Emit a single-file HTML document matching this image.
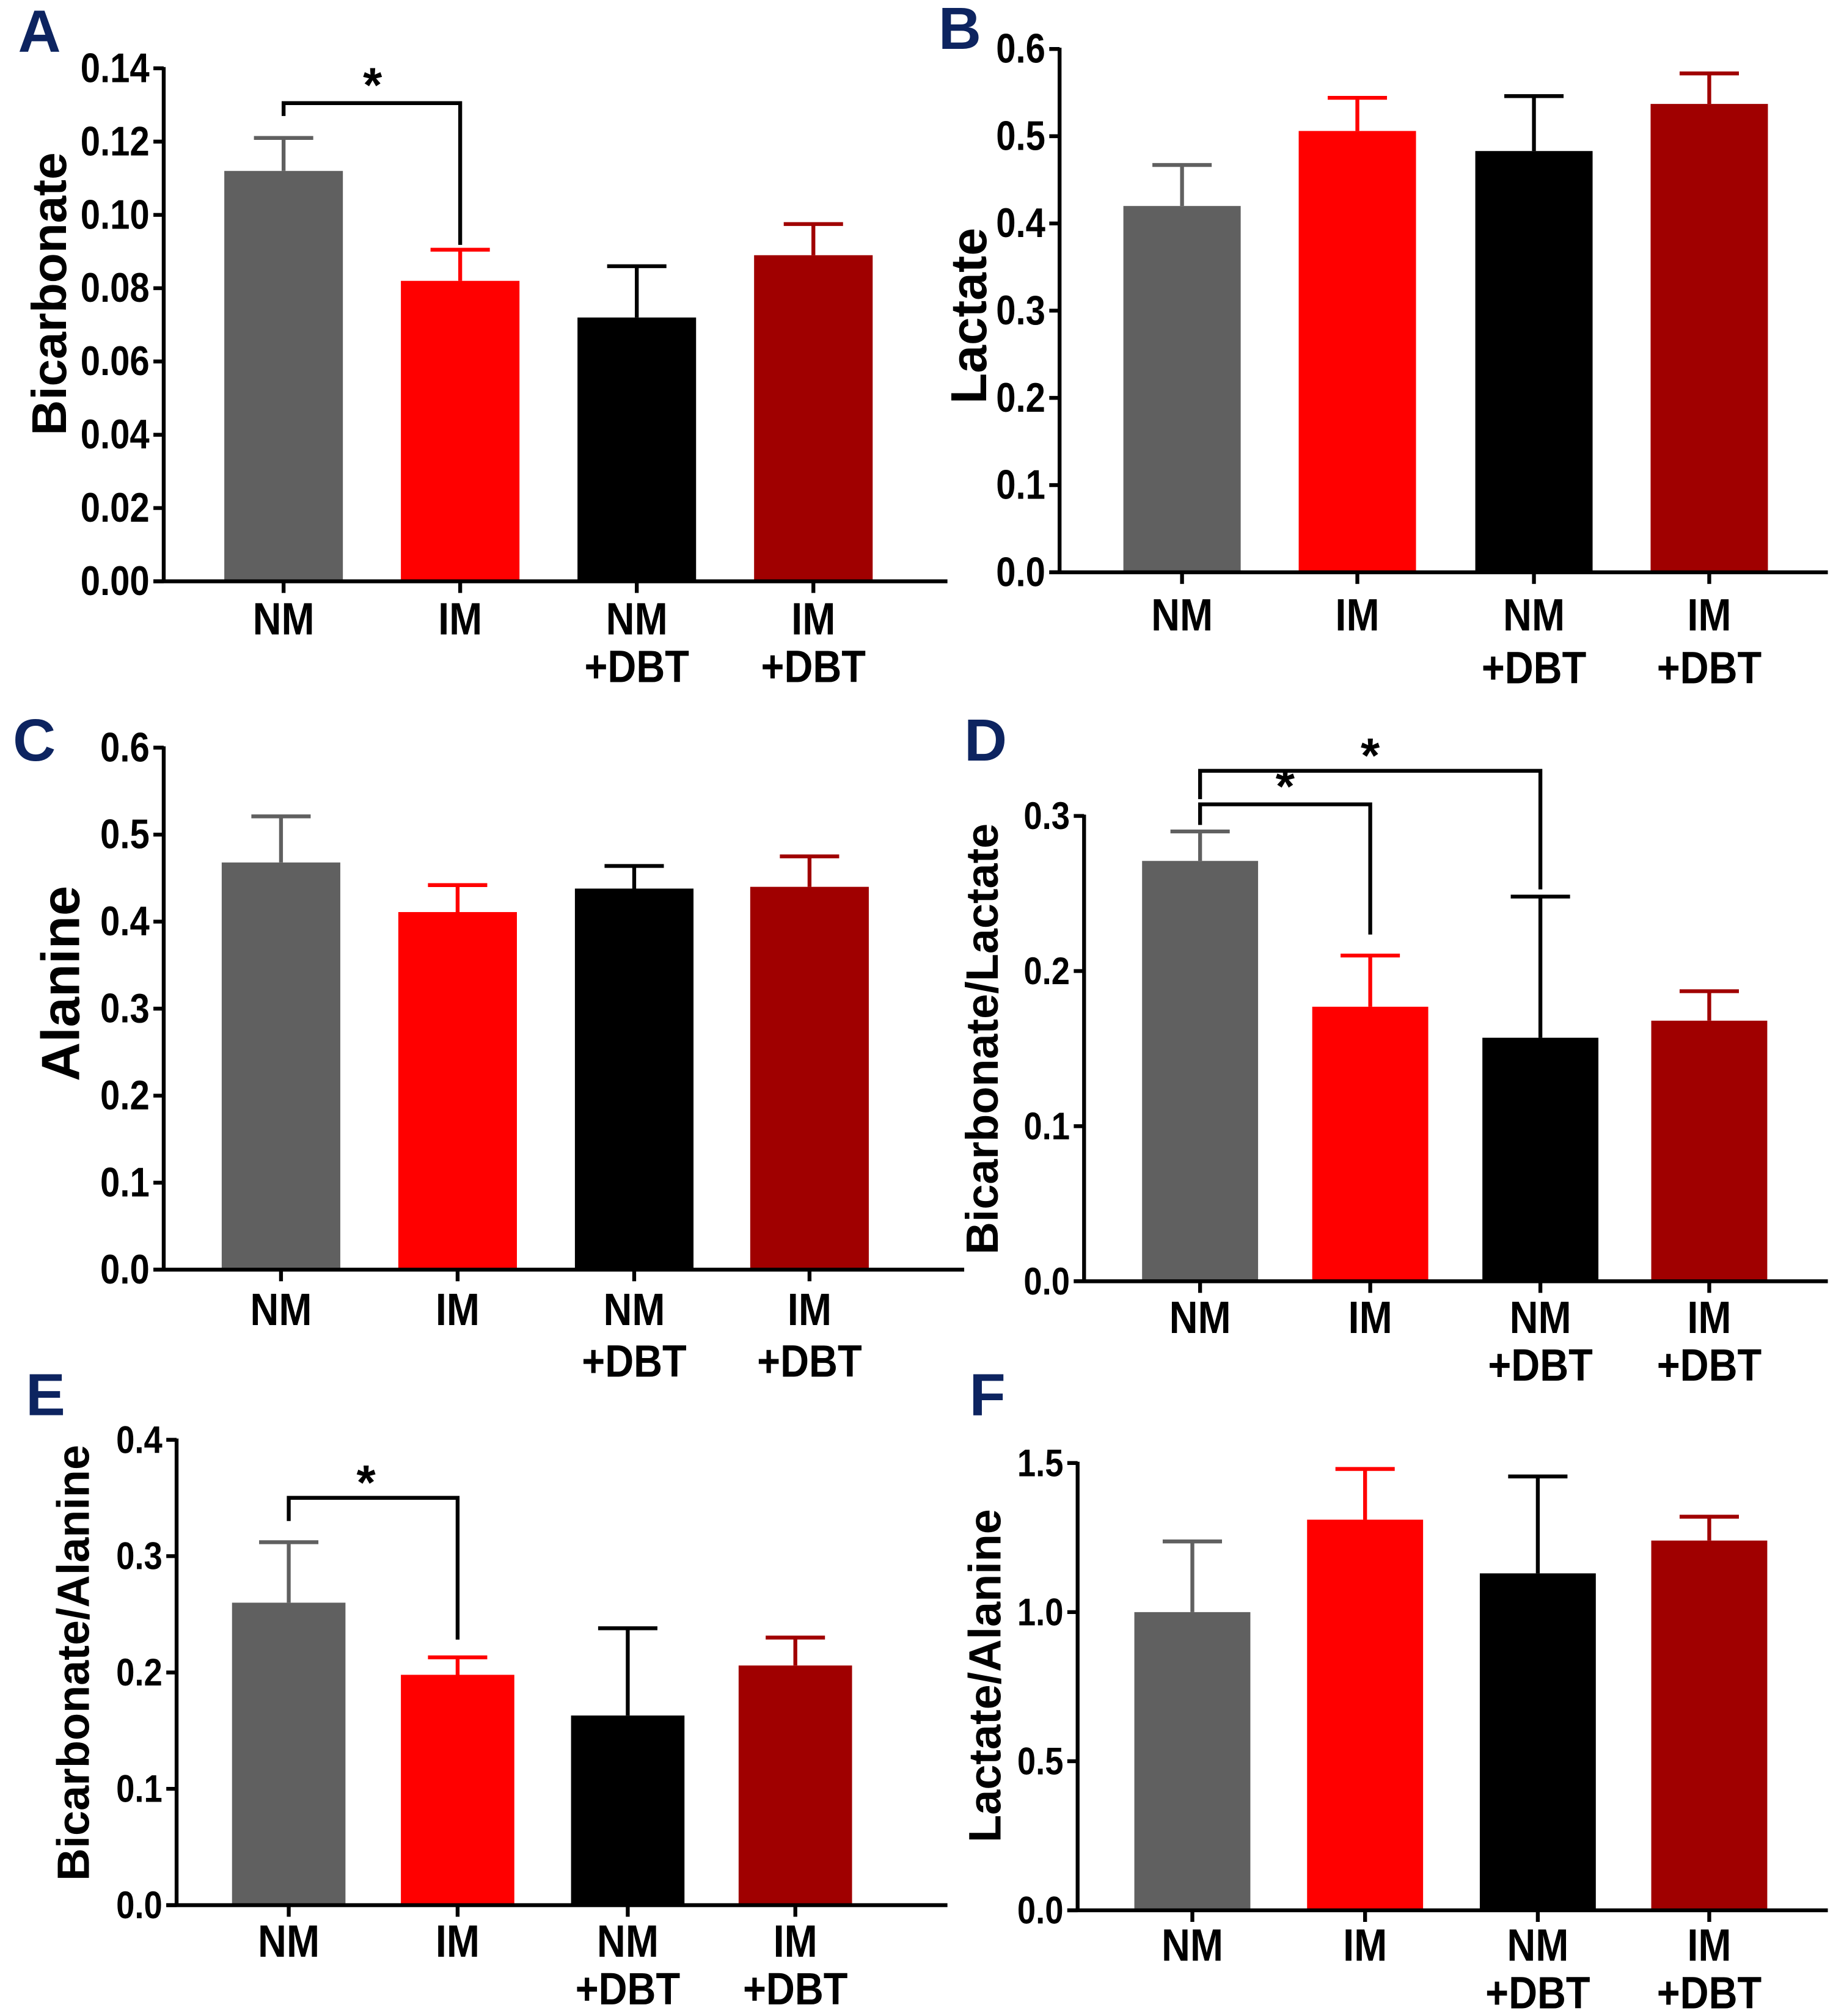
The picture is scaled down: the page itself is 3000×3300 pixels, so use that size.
<!DOCTYPE html>
<html><head><meta charset="utf-8"><style>
html,body{margin:0;padding:0;background:#fff;}
svg{display:block;}
text{font-family:"Liberation Sans",sans-serif;font-weight:bold;fill:#000;}
.pl{fill:#0d2460;}
</style></head><body>
<svg id="fig" width="3000" height="3300" viewBox="0 0 1422 1564" preserveAspectRatio="none" xmlns="http://www.w3.org/2000/svg"></svg>
<script>
const categories = [["NM"],["IM"],["NM","+DBT"],["IM","+DBT"]];
const colors = ["#606060","#ff0000","#000000","#a00000"];
const aValues = [0.112,0.082,0.072,0.089];
const aErrors = [0.121,0.0905,0.086,0.0975];
const aTicks = ["0.00","0.02","0.04","0.06","0.08","0.10","0.12","0.14"];
const bValues = [0.420,0.506,0.483,0.537];
const bErrors = [0.467,0.544,0.546,0.572];
const bTicks = ["0.0","0.1","0.2","0.3","0.4","0.5","0.6"];
const cValues = [0.468,0.411,0.438,0.440];
const cErrors = [0.521,0.442,0.464,0.475];
const cTicks = ["0.0","0.1","0.2","0.3","0.4","0.5","0.6"];
const dValues = [0.271,0.177,0.157,0.168];
const dErrors = [0.290,0.210,0.248,0.187];
const dTicks = ["0.0","0.1","0.2","0.3"];
const eValues = [0.260,0.198,0.163,0.206];
const eErrors = [0.312,0.213,0.238,0.230];
const eTicks = ["0.0","0.1","0.2","0.3","0.4"];
const fValues = [1.00,1.31,1.13,1.24];
const fErrors = [1.237,1.48,1.455,1.32];
const fTicks = ["0.0","0.5","1.0","1.5"];

const NS="http://www.w3.org/2000/svg";
const svg=document.getElementById('fig');
function mk(tag,attrs,parent){const e=document.createElementNS(NS,tag);for(const k in attrs)e.setAttribute(k,attrs[k]);(parent||svg).appendChild(e);return e;}

const panels=[
 {id:'a',letter:'A',lx:14,ly:40,title:'Bicarbonate',tx:38,ty:228,tfs:38,ax:127,y0:451,yt:53,xend:735,max:0.14,ticks:aTicks,vals:aValues,errs:aErrors,cx:[220,357,494,631],bw:92,xl1:480,xl2:517,tkfs:32,
  brackets:[{a:0,b:1,ya:90,top:80,yb:190,sx:289,sy:79}]},
 {id:'b',letter:'B',lx:728,ly:38,title:'Lactate',tx:752,ty:245,tfs:39,ax:822,y0:444,yt:38,xend:1418,max:0.6,ticks:bTicks,vals:bValues,errs:bErrors,cx:[917,1053,1190,1326],bw:91,xl1:477,xl2:518,tkfs:32,brackets:[]},
 {id:'c',letter:'C',lx:10,ly:590,title:'Alanine',tx:47,ty:763,tfs:42,ax:127,y0:985,yt:580,xend:748,max:0.6,ticks:cTicks,vals:cValues,errs:cErrors,cx:[218,355,492,628],bw:92,xl1:1016,xl2:1056,tkfs:32,brackets:[]},
 {id:'d',letter:'D',lx:748,ly:590,title:'Bicarbonate/Lactate',tx:762,ty:806,tfs:35,ax:841,y0:994,yt:633,xend:1418,max:0.3,ticks:dTicks,vals:dValues,errs:dErrors,cx:[931,1063,1195,1326],bw:90,xl1:1022,xl2:1059,tkfs:30,
  brackets:[{a:0,b:1,ya:640,top:624,yb:725,sx:997,sy:623},{a:0,b:2,ya:620,top:598,yb:690,sx:1063,sy:599}]},
 {id:'e',letter:'E',lx:20,ly:1098,title:'Bicarbonate/Alanine',tx:57,ty:1290,tfs:35,ax:137,y0:1478,yt:1117,xend:735,max:0.4,ticks:eTicks,vals:eValues,errs:eErrors,cx:[224,355,487,617],bw:88,xl1:1506,xl2:1543,tkfs:30,
  brackets:[{a:0,b:1,ya:1180,top:1162,yb:1272,sx:284,sy:1163}]},
 {id:'f',letter:'F',lx:752,ly:1098,title:'Lactate/Alanine',tx:764,ty:1300,tfs:35,ax:836,y0:1482,yt:1135,xend:1418,max:1.5,ticks:fTicks,vals:fValues,errs:fErrors,cx:[925,1059,1193,1326],bw:90,xl1:1509,xl2:1546,tkfs:30,brackets:[]}
];

panels.forEach(p=>{
 const g=mk('g',{});
 
 
 const y=v=>p.y0-(v/p.max)*(p.y0-p.yt);
 const lt=mk('text',{x:p.lx,y:p.ly,'font-size':46,class:'pl'},g);lt.textContent=p.letter;
 
 
 const t=mk('text',{x:p.tx,y:p.ty,'font-size':p.tfs,'text-anchor':'middle','dominant-baseline':'central',transform:`rotate(-90 ${p.tx} ${p.ty})`},g);t.textContent=p.title;
 
 
 p.vals.forEach((v,i)=>{
  const col=colors[i];
  const r=mk('rect',{x:p.cx[i]-p.bw/2,y:y(v),width:p.bw,height:p.y0-y(v),fill:col},g);
  
  
  const eg=mk('path',{d:`M${p.cx[i]} ${y(v)}V${y(p.errs[i])}M${p.cx[i]-23} ${y(p.errs[i])}H${p.cx[i]+23}`,stroke:col,'stroke-width':3,fill:'none'},g);
  
  
 });
 const ya=mk('line',{x1:p.ax,y1:p.yt-1,x2:p.ax,y2:p.y0+1,stroke:'#000','stroke-width':3},g);
 
 
 const xa=mk('line',{x1:p.ax-8,y1:p.y0,x2:p.xend,y2:p.y0,stroke:'#000','stroke-width':3},g);
 
 
 p.ticks.forEach(lab=>{
  const v=parseFloat(lab);const yy=y(v);
  mk('line',{x1:p.ax-8,y1:yy,x2:p.ax,y2:yy,stroke:'#000','stroke-width':3},g);
  const tt=mk('text',{x:0,y:0,'font-size':p.tkfs,'text-anchor':'end','dominant-baseline':'central',transform:`translate(${p.ax-11} ${yy}) scale(0.86 1)`},g);tt.textContent=lab;
  
  
 });
 categories.forEach((c,i)=>{
  mk('line',{x1:p.cx[i],y1:p.y0,x2:p.cx[i],y2:p.y0+9,stroke:'#000','stroke-width':3},g);
  c.forEach((s,j)=>{
   const xt=mk('text',{x:0,y:0,'font-size':35,'text-anchor':'middle','dominant-baseline':'central',transform:`translate(${p.cx[i]} ${j?p.xl2:p.xl1}) scale(0.88 1)`},g);xt.textContent=s;
   
   
  });
 });
 p.brackets.forEach(b=>{
  const bp=mk('path',{d:`M${p.cx[b.a]} ${b.ya}V${b.top}H${p.cx[b.b]}V${b.yb}`,stroke:'#000','stroke-width':3,fill:'none'},g);
  
  
  const st=mk('text',{x:b.sx,y:b.sy,'font-size':38,'text-anchor':'middle'},g);st.textContent='*';
  
  
 });
});
</script>
</body></html>
